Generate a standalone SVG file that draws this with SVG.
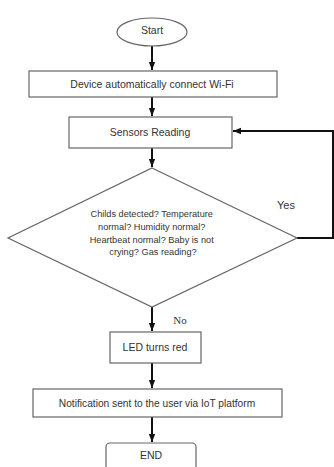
<svg xmlns="http://www.w3.org/2000/svg" width="334" height="467" viewBox="0 0 334 467">
<defs>
<marker id="ah" viewBox="0 0 10 10" refX="10" refY="5" markerWidth="4" markerHeight="4" orient="auto" markerUnits="strokeWidth">
<path d="M0,1 L10,5 L0,9 z" fill="#111"/>
</marker>
<style>
.box{fill:#fff;stroke:#666;stroke-width:1.2}
.t{font-family:"Liberation Sans",Arial,sans-serif;fill:#333;text-anchor:middle}
.c{stroke:#111;stroke-width:2;fill:none}
</style>
</defs>
<rect width="334" height="467" fill="#fff"/>
<g id="connectors">
<line class="c" x1="152" y1="46" x2="152" y2="70" marker-end="url(#ah)"/>
<line class="c" x1="152" y1="97" x2="152" y2="116" marker-end="url(#ah)"/>
<line class="c" x1="152" y1="148" x2="152" y2="167" marker-end="url(#ah)"/>
<polyline class="c" points="297,238 333,238 333,131 233,131" stroke-width="1.6" marker-end="url(#ah)"/>
<line class="c" x1="152" y1="307" x2="152" y2="331" marker-end="url(#ah)"/>
<line class="c" x1="152" y1="363" x2="152" y2="388" marker-end="url(#ah)"/>
<line class="c" x1="152" y1="417" x2="152" y2="442" marker-end="url(#ah)"/>
<text x="286" y="209" class="t" font-size="11">Yes</text>
<text x="180" y="324" font-family="'Liberation Serif','Times New Roman',serif" font-size="11" fill="#333" text-anchor="middle">No</text>
</g>
<g id="start">
<ellipse cx="152" cy="32" rx="35" ry="14" class="box"/>
<text x="152" y="33.5" class="t" font-size="10.5">Start</text>
</g>
<g id="connect">
<rect x="29" y="71" width="248" height="26" class="box"/>
<text x="152" y="88" class="t" font-size="10.5">Device automatically connect Wi-Fi</text>
</g>
<g id="sensors">
<rect x="69" y="117" width="163" height="31" class="box"/>
<text x="150" y="136" class="t" font-size="10.5">Sensors Reading</text>
</g>
<g id="decision">
<polygon points="152,168 297,238 152,307 8,238" class="box"/>
<text class="t" font-size="9.2">
<tspan x="153" y="217">Childs detected? Temperature</tspan>
<tspan x="153" y="230">normal? Humidity normal?</tspan>
<tspan x="153" y="243">Heartbeat normal? Baby is not</tspan>
<tspan x="153" y="255">crying? Gas reading?</tspan>
</text>
</g>
<g id="led">
<rect x="110" y="332" width="91" height="31" class="box"/>
<text x="155" y="351" class="t" font-size="10.5">LED turns red</text>
</g>
<g id="notify">
<rect x="33" y="389" width="249" height="28" class="box"/>
<text x="157" y="407" class="t" font-size="10.2">Notification sent to the user via IoT platform</text>
</g>
<g id="end">
<rect x="106" y="443" width="90" height="30" rx="4" class="box"/>
<text x="151" y="459" class="t" font-size="10.5">END</text>
</g>
</svg>
